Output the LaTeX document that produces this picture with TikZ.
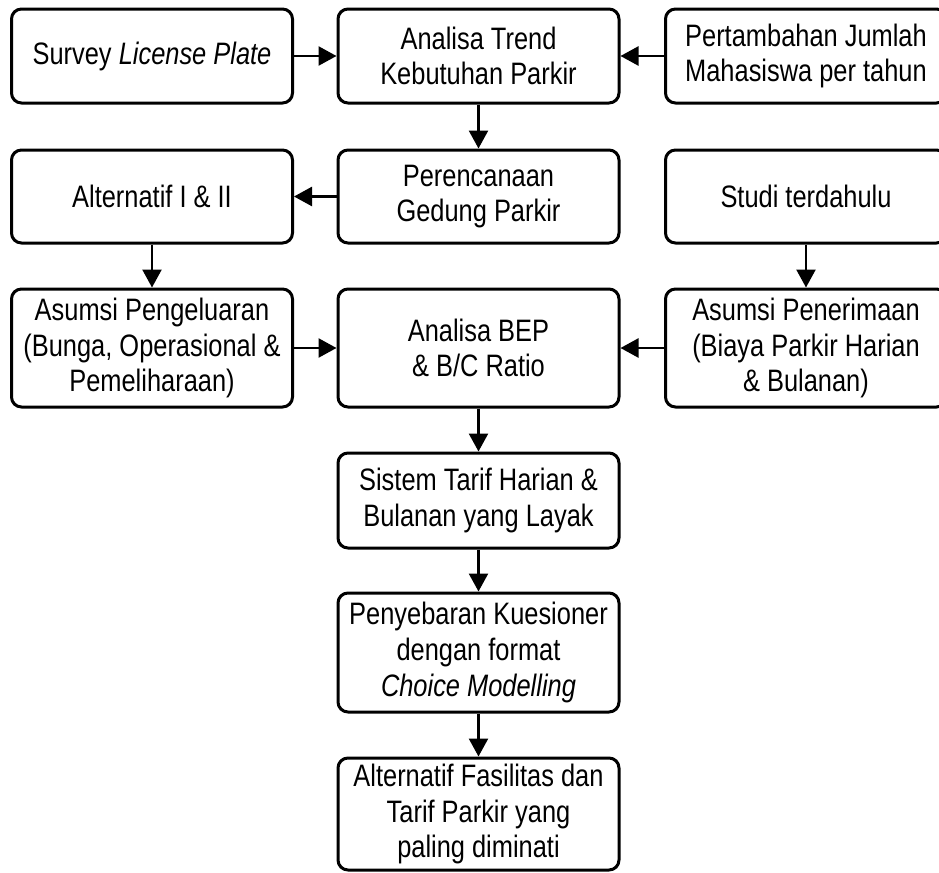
\documentclass[tikz,border=0pt]{standalone}
\usepackage{fontspec}
\setmainfont[FakeStretch=0.82]{Liberation Sans}
\usetikzlibrary{positioning,arrows.meta}
\tikzset{
  box/.style  = {draw=black, line width=1.5pt, rounded corners=5pt, fill=white, align=center,
                 inner sep=0pt, minimum width=140.5pt, font=\fontsize{15.5}{17.8}\selectfont},
  row1/.style = {box, minimum height=47pt},
  row2/.style = {box, minimum height=46.5pt},
  row3/.style = {box, minimum height=59pt},
  flow/.style = {-{Triangle[length=9pt,width=9.5pt]}, line width=1.25pt, draw=black},
}
\begin{document}
\begin{tikzpicture}[x=0.5pt,y=-0.5pt]
  \useasboundingbox (0,0) rectangle (939,873);
  \clip (0,0) rectangle (939,873);

  % top row
  \node[row1] (survey) at (152,56) {Survey \textit{License Plate}};
  \node[row1] (analisa) at (478.5,56) {Analisa Trend\\Kebutuhan Parkir};
  \node[row1] (pertambahan) at (806,56) {Pertambahan Jumlah\\Mahasiswa per tahun};

  % second row
  \node[row2] (alternatif) at (152,196.5) {Alternatif I \& II};
  \node[row2] (perencanaan) at (478.5,196.5) {Perencanaan\\Gedung Parkir};
  \node[row2] (studi) at (806,196.5) {Studi terdahulu};

  % third row
  \node[row3] (pengeluaran) at (152,348) {Asumsi Pengeluaran\\(Bunga, Operasional \&\\Pemeliharaan)};
  \node[row3] (bep) at (478.5,348) {Analisa BEP\\\& B/C Ratio};
  \node[row3] (penerimaan) at (806,348) {Asumsi Penerimaan\\(Biaya Parkir Harian\\\& Bulanan)};

  % middle column
  \node[box, minimum height=47.5pt] (tarif) at (478.5,500.5) {Sistem Tarif Harian \&\\Bulanan yang Layak};
  \node[box, minimum height=59.5pt] (kuesioner) at (478.5,652.5) {Penyebaran Kuesioner\\dengan format\\\textit{Choice Modelling}};
  \node[box, minimum height=56pt] (fasilitas) at (478.5,814) {Alternatif Fasilitas dan\\Tarif Parkir yang\\paling diminati};

  \foreach \a/\b in {survey/analisa, pertambahan/analisa, analisa/perencanaan,
                     perencanaan/alternatif, alternatif/pengeluaran, studi/penerimaan,
                     pengeluaran/bep, penerimaan/bep, bep/tarif, tarif/kuesioner,
                     kuesioner/fasilitas} {
    \draw[flow] (\a) -- (\b);
  }
\end{tikzpicture}
\end{document}
